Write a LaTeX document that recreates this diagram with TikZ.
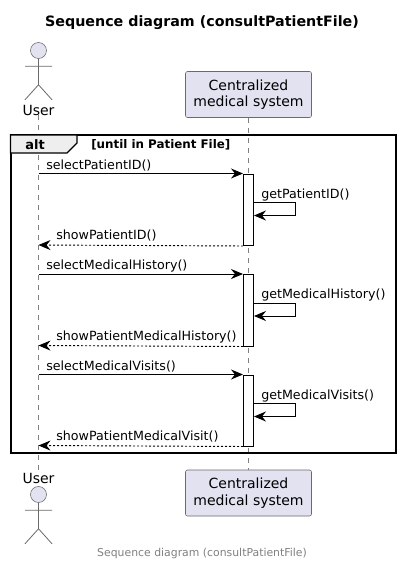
\documentclass[tikz,border=0pt]{standalone}
\usepackage{fontspec}
\setmainfont{DejaVu Sans}
\usetikzlibrary{arrows.meta,
                positioning}
\definecolor{partfill}{HTML}{E2E2F0}
\definecolor{partline}{HTML}{6A6A6A}
\definecolor{tabfill}{HTML}{EEEEEE}

\begin{document}
\begin{tikzpicture}[
        x = 0.75pt, y = -0.75pt,
      life/.style = {draw=gray, dash pattern=on 3.75pt off 3.75pt, line width=0.5pt},
      part/.style = {rectangle, rounded corners=1.5pt, draw=partline, fill=partfill,
                     minimum width=94.5pt, minimum height=34.5pt, inner sep=0pt,
                     align=center, font=\fontsize{10.5}{12.2}\selectfont},
     actor/.style = {circle, draw=partline, fill=partfill, minimum size=12pt, inner sep=0pt},
      limb/.style = {draw=partline, line width=0.6pt},
     uname/.style = {inner sep=0pt, font=\fontsize{10.5}{12}\selectfont},
       act/.style = {rectangle, draw=black, fill=white, line width=0.75pt,
                     minimum width=7.5pt, inner sep=0pt, anchor=north},
       msg/.style = {draw=black, line width=0.7pt,
                     -{Stealth[length=9pt, width=7.5pt, inset=3pt]}},
       ret/.style = {msg, dash pattern=on 1.5pt off 1.5pt},
       txt/.style = {inner sep=0pt, anchor=base west, font=\fontsize{9.5}{12}\selectfont},
                        ]
\useasboundingbox (0,0) rectangle (400,565);
\fill[white] (0,0) rectangle (400,565);
\node[font=\bfseries\fontsize{10.7}{12}\selectfont] (title) at (202,23) {Sequence diagram (consultPatientFile)};
\node[text=gray, font=\fontsize{8.15}{10}\selectfont] (foot) at (202,553) {Sequence diagram (consultPatientFile)};
% participants
\node[part] (sysT) at (248.5,94.5) {Centralized\\medical system};
\node[part] (sysB) at (248.5,493) {Centralized\\medical system};
\node[uname] (userT) at (38.5,110) {User};
\node[uname] (userB) at (38.5,478) {User};
\draw[life] (userT) -- (userB);
\draw[life] (sysT) -- (sysB);
% actors
\foreach \n/\y in {headT/50.5,headB/494.5}{
    \node[actor] (\n) at (38.5,\y) {};
    \draw[limb] (\n.south) -- ++(0,26) coordinate (\n-hip)
        -- ++(-13.5,15) (\n-hip) -- ++(13.5,15)
        (\n.south) ++(-13.5,7.5) -- ++(27,0);
}
% frame
\draw[line width=1.5pt] (10.5,135) rectangle (395.5,453);
\draw[draw=black, line width=1pt, fill=tabfill] (10.5,135) -- (77,135) -- (77,143)
    -- (67,153) -- (10.5,153) -- cycle;
\node[font=\bfseries\fontsize{9.75}{12}\selectfont, inner sep=0pt] (alt) at (35,144.5) {alt};
\node[font=\bfseries\fontsize{8.9}{10}\selectfont, inner sep=0pt, anchor=west] (guard) at (91,144.5) {[until in Patient File]};
% messages
\foreach \i/\y/\h/\sel/\get/\shw in {
    1/173.5/71.5/selectPatientID()/getPatientID()/showPatientID(),
    2/274/71.5/selectMedicalHistory()/getMedicalHistory()/showPatientMedicalHistory(),
    3/374.5/71/selectMedicalVisits()/getMedicalVisits()/showPatientMedicalVisit()}{
    \node[act, minimum height=\h*0.75pt] (A-\i) at (248.5,\y) {};
    \coordinate (U-\i) at (38.5,\y);
    \coordinate (UR-\i) at (38.5,\y+\h);
    \coordinate (S1-\i) at (295.5,\y+29);
    \coordinate (S2-\i) at (295.5,\y+42);
    \coordinate (A1-\i) at (253.5,\y+29);
    \coordinate (A2-\i) at (254,\y+42);
    \draw[msg] (U-\i) -- (A-\i.north west);
    \draw[msg] (A1-\i) -- (S1-\i) -- (S2-\i) -- (A2-\i);
    \draw[ret] (A-\i.south west) -- (UR-\i);
    \node[txt] (sel-\i) at (46,\y-4.5) {\sel};
    \node[txt] (get-\i) at (261,\y+24.5) {\get};
    \node[txt] (shw-\i) at (56,\y+\h-5.5) {\shw};
}
\end{tikzpicture}
\end{document}
